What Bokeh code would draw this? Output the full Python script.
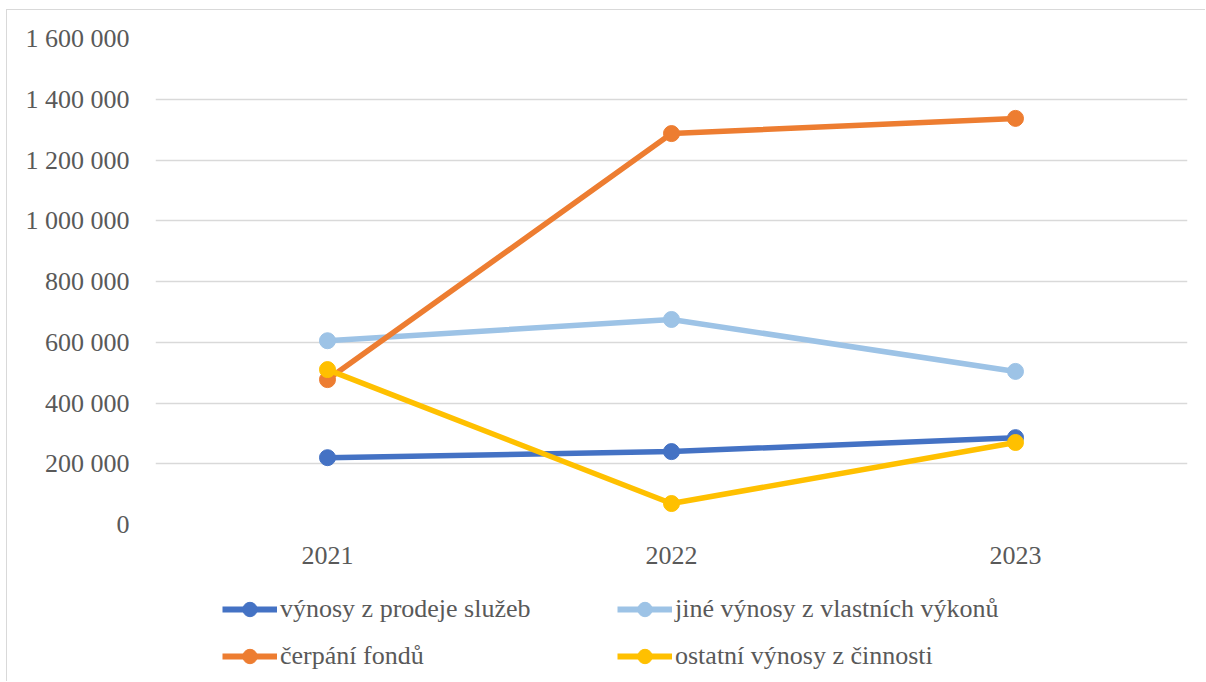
from bokeh.plotting import figure
from bokeh.layouts import column
from bokeh.models import Legend, LegendItem, CustomJSTickFormatter, FixedTicker, Range1d
from bokeh.embed import file_html
from bokeh.resources import INLINE

years = ["2021", "2022", "2023"]
sluzby = [220000, 240000, 286000]
jine = [605000, 675000, 504000]
fondy = [477000, 1287000, 1337000]
ostatni = [510000, 69000, 270000]

names = ["výnosy z prodeje služeb", "jiné výnosy z vlastních výkonů", "čerpání fondů", "ostatní výnosy z činnosti"]
colors = ["#4472C4", "#9DC3E6", "#ED7D31", "#FFC000"]
series = [sluzby, jine, fondy, ostatni]

FONT = "'Liberation Serif', 'DejaVu Serif', serif"
GREY = "#595959"
LW = 5.5
MS = 16

p = figure(x_range=years, y_range=(0, 1600000), width=1199, height=565,
           output_backend="svg", toolbar_location=None,
           min_border_left=148, min_border_right=19, min_border_top=28, min_border_bottom=51)
p.x_range.range_padding = 0
p.outline_line_color = None
p.styles = {"margin-left": "6px", "margin-top": "9px",
            "border-left": "1px solid #d9d9d9", "border-top": "1px solid #d9d9d9"}

p.xgrid.grid_line_color = None
p.ygrid.grid_line_color = "#d9d9d9"
p.ygrid.grid_line_width = 1.5
p.yaxis.ticker = FixedTicker(ticks=list(range(0, 1600001, 200000)))
p.yaxis.formatter = CustomJSTickFormatter(code='return tick.toString().replace(/\\B(?=(\\d{3})+(?!\\d))/g, " ");')
for ax in (p.xaxis[0], p.yaxis[0]):
    ax.axis_line_color = None
    ax.major_tick_line_color = None
    ax.minor_tick_line_color = None
    ax.major_label_text_font = FONT
    ax.major_label_text_color = GREY
    ax.major_label_text_font_size = "26px"
p.yaxis.major_label_standoff = 20
p.xaxis.major_label_standoff = 16

for name, col, vals in zip(names, colors, series):
    p.line(years, vals, line_color=col, line_width=LW)
    p.scatter(years, vals, size=MS, fill_color=col, line_color=col)

# legend panel: same series drawn out of view, only their legend glyphs show
p2 = figure(width=1199, height=107, output_backend="svg", toolbar_location=None,
            x_range=years, y_range=Range1d(-2, -1),
            x_axis_type=None, y_axis_type=None,
            min_border_left=0, min_border_right=0, min_border_top=0, min_border_bottom=0)
p2.outline_line_color = None
p2.grid.grid_line_color = None
p2.styles = {"margin-left": "6px", "border-left": "1px solid #d9d9d9"}

items = []
for name, col, vals in zip(names, colors, series):
    l = p2.line(years, vals, line_color=col, line_width=6)
    s = p2.scatter(years, vals, size=MS, fill_color=col, line_color=col)
    items.append(LegendItem(label=name, renderers=[l, s]))

def mk_legend(its, x):
    lg = Legend(items=its, location=(x, 7), orientation="vertical")
    lg.border_line_color = None
    lg.background_fill_alpha = 0
    lg.padding = 0
    lg.margin = 0
    lg.spacing = 11
    lg.glyph_width = 55
    lg.glyph_height = 36
    lg.label_height = 26
    lg.label_standoff = 3
    lg.label_text_font = FONT
    lg.label_text_color = GREY
    lg.label_text_font_size = "26px"
    return lg

p2.add_layout(mk_legend([items[0], items[2]], 67), "center")
p2.add_layout(mk_legend([items[1], items[3]], 462), "center")

layout = column(p, p2, spacing=0)
open("out.html", "w").write(file_html(layout, INLINE))
